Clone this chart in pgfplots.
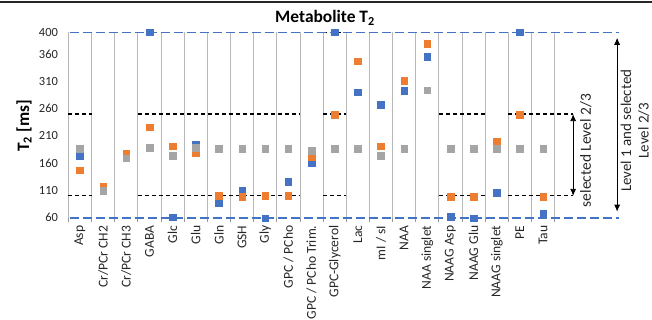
\documentclass[border=0pt]{standalone}
\usepackage{fontspec}
\setmainfont{Carlito}
\usepackage{pgfplots}
\pgfplotsset{compat=1.18}
\usetikzlibrary{arrows.meta}
\definecolor{cblue}{HTML}{4472C4}
\definecolor{corange}{HTML}{ED7D31}
\definecolor{cgray}{HTML}{A5A5A5}
\begin{document}
\begin{tikzpicture}
\begin{axis}[
  scale only axis, width=553.6bp, height=185.4bp,
  xmin=-0.5, xmax=23.41, ymin=60, ymax=400,
  clip=false,
  axis line style={draw=none},
  tick pos=left,
  major tick length=0pt,
  minor tick length=4bp,
  tick align=outside,
  xtick={0,...,20},
  xticklabels={Asp, Cr/PCr CH2, Cr/PCr CH3, GABA, Glc, Glu, Gln, GSH, Gly, GPC / PCho, GPC / PCho Trim., GPC-Glycerol, Lac, mI / sI, NAA, NAA singlet, NAAG Asp, NAAG Glu, NAAG singlet, PE, Tau},
  minor xtick={-0.5,0.5,...,20.5},
  xminorgrids,
  minor x grid style={draw=black!28, line width=0.8bp},
  minor tick style={draw=black!40, line width=0.8bp},
  ytick={60,110,160,210,260,310,360,400},
  ticklabel style={font=\fontsize{12.5}{15}\selectfont, text=black!85},
  xticklabel style={yshift=-4.5bp, rotate=90, anchor=east, font=\fontsize{13.6}{16}\selectfont},
  yticklabel style={xshift=-7bp},
  /pgf/number format/assume math mode=true,
]
\coordinate (BL) at (rel axis cs:0,0);
% black dashed level line at 400 (drawn under the blue line)
\addplot[black, line width=1.2bp, dash pattern=on 4bp off 3bp] coordinates {(10.5,400) (11.5,400)};
% series
\addplot[only marks, mark=square*, mark size=3.3bp, color=cblue] coordinates {
(0,174) (3,400) (4,61) (5,194) (6,87) (7,110) (8,59) (9,126) (10,161) (11,400) (12,290) (13,267) (14,293) (15,355) (16,62) (17,59) (18,106) (19,400) (20,67)};
\addplot[only marks, mark=square*, mark size=3.3bp, color=corange] coordinates {
(0,147) (1,118) (2,178) (3,226) (4,191) (5,178) (6,100) (7,98) (8,100) (9,100) (10,172) (11,249) (12,347) (13,191) (14,311) (15,379) (16,99) (17,99) (18,199) (19,249) (20,98)};
\addplot[only marks, mark=square*, mark size=3.3bp, color=cgray] coordinates {
(0,187) (1,110) (2,169) (3,188) (4,174) (5,188) (6,187) (7,187) (8,187) (9,187) (10,183) (11,187) (12,187) (13,174) (14,187) (15,294) (16,187) (17,187) (18,187) (19,187) (20,187)};
% level lines
\addplot[black, line width=1.2bp, dash pattern=on 4bp off 3bp, unbounded coords=jump] coordinates {
(-0.5,250) (0.5,250) (1,nan) (2.5,250) (9.5,250) (10,nan) (10.5,250) (11.5,250) (12,nan) (15.5,250) (17.5,250) (18,nan) (18.5,250) (21.3,250)};
\addplot[black, line width=1.2bp, dash pattern=on 4bp off 3bp, unbounded coords=jump] coordinates {
(-0.5,100) (0.5,100) (1,nan) (2.5,100) (9.5,100) (10,nan) (10.5,100) (11.5,100) (12,nan) (15.5,100) (17.5,100) (18,nan) (18.5,100) (21.3,100)};
\addplot[cblue, line width=1.6bp, dash pattern=on 9bp off 4bp] coordinates {(-0.45,400) (23.3,400)};
\addplot[cblue, line width=1.6bp, dash pattern=on 9bp off 4bp] coordinates {(-0.45,60) (23.3,60)};
% arrows and labels
\draw[{Latex[length=7bp,width=6bp]}-{Latex[length=7bp,width=6bp]}, line width=0.8bp] (axis cs:21.3,100) -- (axis cs:21.3,250);
\draw[{Latex[length=7bp,width=6bp]}-{Latex[length=7bp,width=6bp]}, line width=0.8bp] (axis cs:23.2,71) -- (axis cs:23.2,390);
\node[rotate=90, font=\fontsize{15.5}{18}\selectfont, text=black!85] at (axis cs:21.85,183) {selected Level 2/3};
\node[rotate=90, font=\fontsize{15}{17.5}\selectfont, text=black!85, align=center] at (axis cs:23.97,219.5) {Level 1 and selected\\Level 2/3};
\end{axis}
% title, y label, frame line
\node[font=\fontsize{17.5}{21}\selectfont\bfseries, anchor=base] at ([shift={(256.6bp,195bp)}]BL) {Metabolite T\textsubscript{2}};
\node[font=\fontsize{17.5}{21}\selectfont\bfseries, rotate=90] at ([shift={(-44.4bp,91.7bp)}]BL) {T\textsubscript{2} [ms]};
\draw[line width=1.5bp, black!85] ([shift={(-68.4bp,215.9bp)}]BL) -- ([shift={(583.6bp,215.9bp)}]BL);
\pgfresetboundingbox
\path ([shift={(-68.4bp,-102.3bp)}]BL) rectangle ([shift={(583.6bp,217.7bp)}]BL);
\end{tikzpicture}
\end{document}
